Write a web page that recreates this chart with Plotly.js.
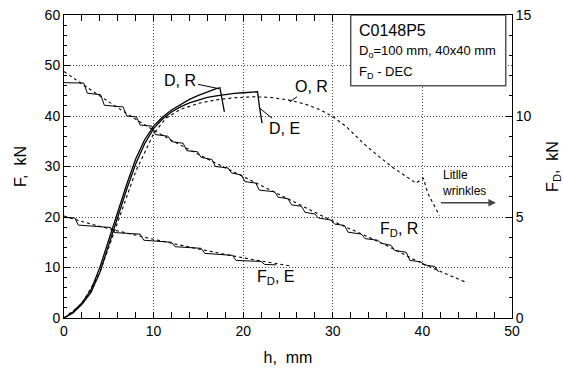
<!DOCTYPE html>
<html>
<head>
<meta charset="utf-8">
<script src="https://cdn.plot.ly/plotly-3.0.1.min.js"></script>
<style>html,body{margin:0;padding:0;background:#fff;}#chart{width:563px;height:372px;}</style>
</head>
<body>
<div id="chart"></div>
<script>
// Force curves (left axis, kN)
var hDR = [0,1,2,3,4,5,6,7,8,9,10,11,12,13,14,15,16,17,17.4,17.6,17.9];
var fDR = [0,1.2,3,5.5,10,15.5,21,26.5,31.5,35.3,38,39.8,41.2,42.3,43.3,44.1,44.8,45.4,45.6,43.5,40.8];

var hDE = [0,1,2,3,4,5,6,7,8,9,10,11,12,13,14,15,16,17,18,19,20,21,21.6,21.8,22.1];
var fDE = [0,1.0,2.7,5,9,14.5,20,25.5,30.5,34.5,37.5,39.4,40.8,41.8,42.6,43.2,43.7,44.0,44.3,44.5,44.6,44.8,44.8,42,38.6];

var hOR = [0,2,4,6,8,10,11.4,13,15,17,19,21,23,25,27,28.5,30,31.5,33.4,35.2,36.7,38.2,39.3,40.1,40.6,41.9];
var fOR = [0,2.8,9,19,29,36.5,39.6,41.3,42.5,43.2,43.6,43.8,43.7,43.2,42.3,41.3,39.9,37.9,34.6,31.9,29.8,28.0,26.7,27.7,24.7,20.3];

// Blank-holder force curves (right axis, kN)
var hFDR = [0,2.2,2.6,4.1,4.5,6.6,7.0,8.1,8.5,9.8,10.2,11.6,12.0,13.3,13.7,14.9,15.3,16.5,16.9,18.3,18.7,19.8,20.2,21.4,21.8,23.5,23.9,25.0,25.4,26.5,26.9,28.0,28.4,29.8,30.2,31.3,31.7,33.2,33.6,35.0,35.4,36.5,36.9,38.2,38.6,39.8,40.2,41.4,41.8];
var fFDR = [11.65,11.63,11.13,11.05,10.53,10.45,10.0,9.95,9.55,9.5,9.08,9.0,8.73,8.65,8.28,8.23,7.95,7.85,7.5,7.43,7.18,7.08,6.75,6.68,6.33,6.25,5.98,5.9,5.6,5.53,5.23,5.15,4.95,4.85,4.65,4.58,4.25,4.15,3.93,3.85,3.7,3.6,3.35,3.25,2.85,2.78,2.63,2.55,2.28];
var hFDRfit = [0,5,10,15,20,25,30,35,40,44.7];
var fFDRfit = [12.2,10.7,9.3,8.1,7.0,5.9,4.8,3.8,2.7,1.8];

var hFDE = [0,1.2,1.6,5.2,5.6,8.5,8.9,12.0,12.4,15.3,15.7,18.8,19.2,22.0,22.4,23.7];
var fFDE = [4.98,4.95,4.6,4.48,4.23,4.15,3.85,3.75,3.53,3.45,3.2,3.1,2.85,2.8,2.65,2.63];
var hFDEfit = [0,2,5,10,15,20,25.2];
var fFDEfit = [5.05,4.78,4.42,3.9,3.42,2.98,2.58];

var xTicks = [0,10,20,30,40,50];
var yTicks = [0,10,20,30,40,50,60];
var y2Ticks = [0,5,10,15];

var FONT = 'Liberation Sans, Arial, sans-serif';
var solid = {color:'#000', width:1.3};
var thin = {color:'#000', width:1};
var dashed = {color:'#000', width:1.1, dash:'3px,3px'};

var traces = [
  {x:hDR, y:fDR, mode:'lines', line:solid, yaxis:'y'},
  {x:hDE, y:fDE, mode:'lines', line:solid, yaxis:'y'},
  {x:hOR, y:fOR, mode:'lines', line:dashed, yaxis:'y'},
  {x:hFDRfit, y:fFDRfit, mode:'lines', line:Object.assign({shape:'spline'}, dashed), yaxis:'y2'},
  {x:hFDR, y:fFDR, mode:'lines', line:thin, yaxis:'y2'},
  {x:hFDEfit, y:fFDEfit, mode:'lines', line:Object.assign({shape:'spline'}, dashed), yaxis:'y2'},
  {x:hFDE, y:fFDE, mode:'lines', line:thin, yaxis:'y2'}
];

function ann(text, x, y, size, extra){
  return Object.assign({text:text, x:x, y:y, xref:'x', yref:'y', showarrow:false,
    font:{family:FONT, size:size, color:'#000'}}, extra||{});
}
function leader(text, x, y, ax, ay){
  return {text:text, x:x, y:y, ax:ax, ay:ay, xref:'x', yref:'y', axref:'x', ayref:'y',
    showarrow:true, arrowhead:0, arrowwidth:1, arrowcolor:'#000', standoff:0, startstandoff:0,
    font:{family:FONT, size:16, color:'#000'}};
}

var annotations = [
  leader('D, R', 17.3, 45.4, 13.0, 47.0),
  leader('D, E', 21.8, 41.6, 24.6, 37.6),
  leader('O, R', 25.2, 42.8, 27.6, 45.8),
  ann('F<sub>D</sub>, R', 37.4, 17.5, 16),
  ann('F<sub>D</sub>, E', 23.6, 8.1, 16),
  ann('Litlle<br>wrinkles', 42.0, 26.8, 12, {xanchor:'left', align:'left'}),
  {x:48.2, y:22.8, ax:41.9, ay:22.8, xref:'x', yref:'y', axref:'x', ayref:'y', text:'',
    showarrow:true, arrowhead:2, arrowsize:1, arrowwidth:1.5, arrowcolor:'#444', standoff:0},
  ann('C0148P5', 32.7, 56.9, 16, {xanchor:'left'}),
  ann('D<sub>o</sub>=100 mm, 40x40 mm', 32.7, 52.7, 13, {xanchor:'left'}),
  ann('F<sub>D</sub> - DEC', 32.7, 48.6, 13, {xanchor:'left'})
];

var shapes = [
  {type:'rect', xref:'x', yref:'y', x0:32.0, x1:49.3, y0:46.0, y1:60.0,
   line:{color:'#555', width:1.5}, fillcolor:'#fff', layer:'above'}
];

var layout = {
  width:563, height:372,
  margin:{l:64, r:51, t:15, b:54},
  paper_bgcolor:'#fff', plot_bgcolor:'#fff',
  showlegend:false,
  font:{family:FONT, size:14, color:'#000'},
  xaxis:{range:[0,50], tickvals:xTicks, ticks:'inside', ticklen:6, tickcolor:'#000',
    showline:true, linecolor:'#000', linewidth:1, mirror:'allticks',
    showgrid:true, gridcolor:'#444', griddash:'1px,2px', gridwidth:1, zeroline:false,
    minor:{dtick:2, ticks:'inside', ticklen:3, tickcolor:'#000', showgrid:false},
    tickfont:{family:FONT, size:14},
    title:{text:'h,  mm', font:{family:FONT, size:16}, standoff:14}},
  yaxis:{range:[0,60], tickvals:yTicks, ticks:'inside', ticklen:6, tickcolor:'#000',
    showline:true, linecolor:'#000', linewidth:1,
    showgrid:true, gridcolor:'#444', griddash:'1px,2px', gridwidth:1, zeroline:false,
    minor:{dtick:2, ticks:'inside', ticklen:3, tickcolor:'#000', showgrid:false},
    tickfont:{family:FONT, size:14},
    title:{text:'F,  kN', font:{family:FONT, size:16}, standoff:14}},
  yaxis2:{range:[0,15], tickvals:y2Ticks, overlaying:'y', side:'right',
    ticks:'inside', ticklen:6, tickcolor:'#000',
    showline:true, linecolor:'#000', linewidth:1, showgrid:false, zeroline:false,
    minor:{dtick:1, ticks:'inside', ticklen:3, tickcolor:'#000', showgrid:false},
    tickfont:{family:FONT, size:14},
    title:{text:'F<sub>D</sub>,  kN', font:{family:FONT, size:16}, standoff:22}},
  annotations:annotations,
  shapes:shapes
};

Plotly.newPlot('chart', traces, layout, {staticPlot:true, displayModeBar:false});
</script>
</body>
</html>
